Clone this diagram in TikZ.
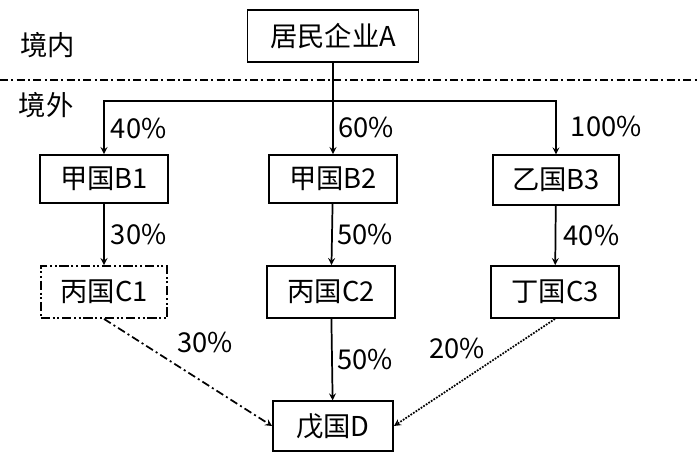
\documentclass[tikz,border=0pt]{standalone}
\usepackage{fontspec}
\setmainfont{Noto Sans CJK SC}
\usetikzlibrary{arrows}
\tikzset{
  firmbox/.style={draw,line width=1.4pt,inner sep=0pt,font=\fontsize{20.5}{24}\selectfont},
  dashbox/.style={firmbox,dash pattern=on 7pt off 2pt on 1.5pt off 2pt on 1.5pt off 2pt},
  share/.style={font=\fontsize{20.5}{24}\selectfont,inner sep=1.5pt},
  own/.style={->,>=stealth,line width=1.3pt}
}
\begin{document}
\begin{tikzpicture}[x=0.75pt,y=0.75pt,yscale=-1,xscale=1]
\useasboundingbox (0,0) rectangle (699,452);

%Nodes: companies
\node [firmbox,minimum width=128.25pt,minimum height=39pt] (A) at (333,36) {居民企业A};
\node [firmbox,minimum width=96pt,minimum height=36pt] (B1) at (104,179) {甲国B1};
\node [firmbox,minimum width=96pt,minimum height=36pt] (B2) at (333,179) {甲国B2};
\node [firmbox,minimum width=95pt,minimum height=37pt] (B3) at (556,180) {乙国B3};
\node [dashbox,minimum width=95pt,minimum height=39pt] (C1) at (104,292) {丙国C1};
\node [firmbox,minimum width=96pt,minimum height=39pt] (C2) at (331,292) {丙国C2};
\node [firmbox,minimum width=96pt,minimum height=39pt] (C3) at (555,292) {丁国C3};
\node [firmbox,minimum width=90pt,minimum height=37pt] (D) at (333,426) {戊国D};

%Text: border
\node [share] (inside) at (48,45) {境内};
\node [share] (outside) at (46,105) {境外};
\coordinate (lineL) at (0,80);
\coordinate (lineR) at (699,80);
\draw [line width=1.3pt,dash pattern=on 6pt off 2.5pt on 1.5pt off 2.5pt] (lineL) -- (lineR);

%Connectors: first level
\coordinate (split) at (333,101);
\draw [line width=1.3pt] (A) -- (split);
\draw [own] (split) -| node [share,pos=0.76,anchor=west,xshift=3pt] {40\%} (B1);
\draw [own] (split) -- node [share,anchor=west,xshift=2pt] {60\%} (B2);
\draw [own] (split) -| node [share,pos=0.74,anchor=west,xshift=9pt] {100\%} (B3);

%Connectors: second level
\draw [own] (B1) -- node [share,anchor=west,xshift=3pt] {30\%} (C1);
\draw [own] (B2) -- node [share,anchor=west,xshift=2pt] {50\%} (C2);
\draw [own] (B3) -- node [share,anchor=west,xshift=4pt] {40\%} (C3);

%Connectors: to D
\draw [own,dash pattern=on 6pt off 2.5pt on 1.5pt off 2.5pt] (C1.south) -- node [share,pos=0.42,anchor=south west,xshift=0pt,yshift=6pt] {30\%} (D.west);
\draw [own] (C2) -- node [share,anchor=west,xshift=2pt] {50\%} (D);
\draw [own,densely dotted] (C3.south) -- node [share,pos=0.4,anchor=south east,xshift=-2pt,yshift=0pt] {20\%} (D.east);

\end{tikzpicture}
\end{document}
